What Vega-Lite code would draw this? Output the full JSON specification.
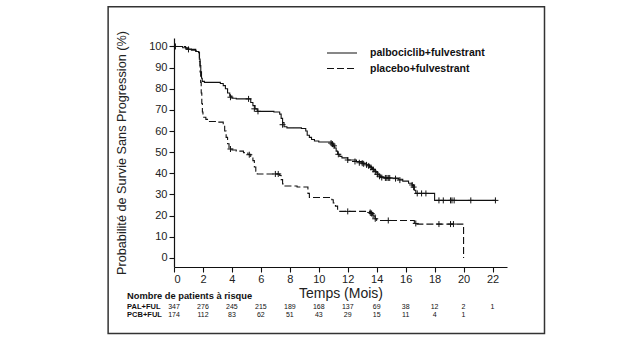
{
  "$schema": "https://vega.github.io/schema/vega-lite/v6.json",
  "width": 333,
  "height": 229,
  "autosize": {"type": "none"},
  "padding": {"left": 174, "top": 38, "right": 119, "bottom": 90},
  "background": "white",
  "config": {
    "font": "Liberation Sans",
    "view": {"stroke": null},
    "axis": {"grid": false, "domainColor": "#111", "tickColor": "#111", "domainWidth": 1.2, "tickWidth": 1.1, "tickSize": 5, "labelFont": "Liberation Sans", "labelFontSize": 11, "labelColor": "#222", "titleFont": "Liberation Sans", "titleColor": "#222", "titleFontWeight": "normal"},
    "axisX": {"tickCount": 12, "titleFontSize": 14, "titlePadding": 2, "labelPadding": 1},
    "axisY": {"tickCount": 11, "titleFontSize": 12.7, "titlePadding": 20, "labelPadding": 2}
  },
  "datasets": {
    "curves": [
      {"arm": "palbociclib+fulvestrant", "t": 0, "s": 100},
      {"arm": "palbociclib+fulvestrant", "t": 0.6, "s": 99.4},
      {"arm": "palbociclib+fulvestrant", "t": 0.9, "s": 98.8},
      {"arm": "palbociclib+fulvestrant", "t": 1.2, "s": 98.2},
      {"arm": "palbociclib+fulvestrant", "t": 1.5, "s": 97.6},
      {"arm": "palbociclib+fulvestrant", "t": 1.7, "s": 97},
      {"arm": "palbociclib+fulvestrant", "t": 1.75, "s": 94},
      {"arm": "palbociclib+fulvestrant", "t": 1.8, "s": 91},
      {"arm": "palbociclib+fulvestrant", "t": 1.85, "s": 88},
      {"arm": "palbociclib+fulvestrant", "t": 1.9, "s": 85},
      {"arm": "palbociclib+fulvestrant", "t": 1.95, "s": 83.5},
      {"arm": "palbociclib+fulvestrant", "t": 2.1, "s": 83},
      {"arm": "palbociclib+fulvestrant", "t": 3.2, "s": 82.5},
      {"arm": "palbociclib+fulvestrant", "t": 3.4, "s": 81.5},
      {"arm": "palbociclib+fulvestrant", "t": 3.55, "s": 80},
      {"arm": "palbociclib+fulvestrant", "t": 3.7, "s": 78},
      {"arm": "palbociclib+fulvestrant", "t": 3.85, "s": 76.5},
      {"arm": "palbociclib+fulvestrant", "t": 4.0, "s": 75.5},
      {"arm": "palbociclib+fulvestrant", "t": 4.3, "s": 75.2},
      {"arm": "palbociclib+fulvestrant", "t": 5.3, "s": 73.5},
      {"arm": "palbociclib+fulvestrant", "t": 5.45, "s": 72},
      {"arm": "palbociclib+fulvestrant", "t": 5.6, "s": 70.5},
      {"arm": "palbociclib+fulvestrant", "t": 5.75, "s": 69.3},
      {"arm": "palbociclib+fulvestrant", "t": 6.9, "s": 69},
      {"arm": "palbociclib+fulvestrant", "t": 7.3, "s": 68},
      {"arm": "palbociclib+fulvestrant", "t": 7.4, "s": 66},
      {"arm": "palbociclib+fulvestrant", "t": 7.5, "s": 64},
      {"arm": "palbociclib+fulvestrant", "t": 7.6, "s": 62},
      {"arm": "palbociclib+fulvestrant", "t": 7.8, "s": 61.5},
      {"arm": "palbociclib+fulvestrant", "t": 8.8, "s": 61.2},
      {"arm": "palbociclib+fulvestrant", "t": 9.1, "s": 60},
      {"arm": "palbociclib+fulvestrant", "t": 9.2, "s": 58},
      {"arm": "palbociclib+fulvestrant", "t": 9.35, "s": 57},
      {"arm": "palbociclib+fulvestrant", "t": 9.5, "s": 56},
      {"arm": "palbociclib+fulvestrant", "t": 9.7, "s": 55.3},
      {"arm": "palbociclib+fulvestrant", "t": 10.0, "s": 54.8},
      {"arm": "palbociclib+fulvestrant", "t": 10.9, "s": 54},
      {"arm": "palbociclib+fulvestrant", "t": 11.0, "s": 53},
      {"arm": "palbociclib+fulvestrant", "t": 11.1, "s": 52},
      {"arm": "palbociclib+fulvestrant", "t": 11.2, "s": 50.5},
      {"arm": "palbociclib+fulvestrant", "t": 11.3, "s": 49},
      {"arm": "palbociclib+fulvestrant", "t": 11.45, "s": 48},
      {"arm": "palbociclib+fulvestrant", "t": 11.6, "s": 47.3},
      {"arm": "palbociclib+fulvestrant", "t": 12.0, "s": 46.3},
      {"arm": "palbociclib+fulvestrant", "t": 12.6, "s": 45.6},
      {"arm": "palbociclib+fulvestrant", "t": 13.0, "s": 44.8},
      {"arm": "palbociclib+fulvestrant", "t": 13.3, "s": 44},
      {"arm": "palbociclib+fulvestrant", "t": 13.5, "s": 43.2},
      {"arm": "palbociclib+fulvestrant", "t": 13.65, "s": 42.3},
      {"arm": "palbociclib+fulvestrant", "t": 13.8, "s": 41.2},
      {"arm": "palbociclib+fulvestrant", "t": 13.95, "s": 40.2},
      {"arm": "palbociclib+fulvestrant", "t": 14.1, "s": 39.2},
      {"arm": "palbociclib+fulvestrant", "t": 14.25, "s": 38.4},
      {"arm": "palbociclib+fulvestrant", "t": 14.5, "s": 37.8},
      {"arm": "palbociclib+fulvestrant", "t": 15.5, "s": 37.2},
      {"arm": "palbociclib+fulvestrant", "t": 15.8, "s": 36.3},
      {"arm": "palbociclib+fulvestrant", "t": 16.2, "s": 35.3},
      {"arm": "palbociclib+fulvestrant", "t": 16.45, "s": 34.2},
      {"arm": "palbociclib+fulvestrant", "t": 16.6, "s": 32},
      {"arm": "palbociclib+fulvestrant", "t": 16.7, "s": 30.5},
      {"arm": "palbociclib+fulvestrant", "t": 18.0, "s": 27.2},
      {"arm": "palbociclib+fulvestrant", "t": 22.2, "s": 27.2},
      {"arm": "placebo+fulvestrant", "t": 0, "s": 100},
      {"arm": "placebo+fulvestrant", "t": 0.8, "s": 99.2},
      {"arm": "placebo+fulvestrant", "t": 1.2, "s": 98.6},
      {"arm": "placebo+fulvestrant", "t": 1.5, "s": 98},
      {"arm": "placebo+fulvestrant", "t": 1.72, "s": 97.2},
      {"arm": "placebo+fulvestrant", "t": 1.76, "s": 93},
      {"arm": "placebo+fulvestrant", "t": 1.8, "s": 88},
      {"arm": "placebo+fulvestrant", "t": 1.84, "s": 83},
      {"arm": "placebo+fulvestrant", "t": 1.88, "s": 78},
      {"arm": "placebo+fulvestrant", "t": 1.92, "s": 73},
      {"arm": "placebo+fulvestrant", "t": 1.96, "s": 69},
      {"arm": "placebo+fulvestrant", "t": 2.0, "s": 66.5},
      {"arm": "placebo+fulvestrant", "t": 2.2, "s": 65.5},
      {"arm": "placebo+fulvestrant", "t": 2.4, "s": 64.5},
      {"arm": "placebo+fulvestrant", "t": 3.0, "s": 64.2},
      {"arm": "placebo+fulvestrant", "t": 3.4, "s": 63},
      {"arm": "placebo+fulvestrant", "t": 3.5, "s": 60},
      {"arm": "placebo+fulvestrant", "t": 3.6, "s": 57},
      {"arm": "placebo+fulvestrant", "t": 3.7, "s": 54},
      {"arm": "placebo+fulvestrant", "t": 3.8, "s": 52},
      {"arm": "placebo+fulvestrant", "t": 4.0, "s": 51},
      {"arm": "placebo+fulvestrant", "t": 4.3, "s": 50.5},
      {"arm": "placebo+fulvestrant", "t": 4.8, "s": 49.8},
      {"arm": "placebo+fulvestrant", "t": 5.1, "s": 49},
      {"arm": "placebo+fulvestrant", "t": 5.3, "s": 48},
      {"arm": "placebo+fulvestrant", "t": 5.45, "s": 46},
      {"arm": "placebo+fulvestrant", "t": 5.55, "s": 43},
      {"arm": "placebo+fulvestrant", "t": 5.65, "s": 41},
      {"arm": "placebo+fulvestrant", "t": 5.75, "s": 39.7},
      {"arm": "placebo+fulvestrant", "t": 7.3, "s": 39},
      {"arm": "placebo+fulvestrant", "t": 7.4, "s": 37},
      {"arm": "placebo+fulvestrant", "t": 7.5, "s": 35},
      {"arm": "placebo+fulvestrant", "t": 7.6, "s": 34},
      {"arm": "placebo+fulvestrant", "t": 8.5, "s": 33.5},
      {"arm": "placebo+fulvestrant", "t": 9.25, "s": 30.5},
      {"arm": "placebo+fulvestrant", "t": 9.35, "s": 28.6},
      {"arm": "placebo+fulvestrant", "t": 10.9, "s": 27.5},
      {"arm": "placebo+fulvestrant", "t": 11.0, "s": 26},
      {"arm": "placebo+fulvestrant", "t": 11.15, "s": 24.5},
      {"arm": "placebo+fulvestrant", "t": 11.3, "s": 23},
      {"arm": "placebo+fulvestrant", "t": 11.45, "s": 22},
      {"arm": "placebo+fulvestrant", "t": 13.6, "s": 21.3},
      {"arm": "placebo+fulvestrant", "t": 13.7, "s": 20.5},
      {"arm": "placebo+fulvestrant", "t": 13.8, "s": 19.5},
      {"arm": "placebo+fulvestrant", "t": 13.9, "s": 18.5},
      {"arm": "placebo+fulvestrant", "t": 14.0, "s": 17.7},
      {"arm": "placebo+fulvestrant", "t": 16.6, "s": 16},
      {"arm": "placebo+fulvestrant", "t": 20.0, "s": 0}
    ],
    "censors": [
      {"arm": "PAL", "t": 0.1, "s": 100},
      {"arm": "PAL", "t": 1.0, "s": 98.6},
      {"arm": "PAL", "t": 3.9, "s": 76},
      {"arm": "PAL", "t": 5.15, "s": 75.2},
      {"arm": "PAL", "t": 5.55, "s": 70.5},
      {"arm": "PAL", "t": 5.8, "s": 69.3},
      {"arm": "PAL", "t": 7.5, "s": 63},
      {"arm": "PAL", "t": 10.85, "s": 54.3},
      {"arm": "PAL", "t": 10.95, "s": 53.8},
      {"arm": "PAL", "t": 11.05, "s": 53},
      {"arm": "PAL", "t": 11.35, "s": 49},
      {"arm": "PAL", "t": 12.0, "s": 46.3},
      {"arm": "PAL", "t": 12.5, "s": 45.6},
      {"arm": "PAL", "t": 12.8, "s": 45},
      {"arm": "PAL", "t": 13.0, "s": 44.8},
      {"arm": "PAL", "t": 13.1, "s": 44.5},
      {"arm": "PAL", "t": 13.3, "s": 44},
      {"arm": "PAL", "t": 13.45, "s": 43.5},
      {"arm": "PAL", "t": 13.6, "s": 42.8},
      {"arm": "PAL", "t": 13.75, "s": 41.8},
      {"arm": "PAL", "t": 13.9, "s": 40.8},
      {"arm": "PAL", "t": 14.05, "s": 39.5},
      {"arm": "PAL", "t": 14.2, "s": 38.6},
      {"arm": "PAL", "t": 14.35, "s": 38},
      {"arm": "PAL", "t": 14.6, "s": 37.8},
      {"arm": "PAL", "t": 14.7, "s": 37.8},
      {"arm": "PAL", "t": 14.8, "s": 37.8},
      {"arm": "PAL", "t": 14.9, "s": 37.8},
      {"arm": "PAL", "t": 15.3, "s": 37.5},
      {"arm": "PAL", "t": 15.6, "s": 36.8},
      {"arm": "PAL", "t": 16.45, "s": 34.5},
      {"arm": "PAL", "t": 16.55, "s": 33.5},
      {"arm": "PAL", "t": 16.8, "s": 30.5},
      {"arm": "PAL", "t": 17.1, "s": 30.5},
      {"arm": "PAL", "t": 17.4, "s": 30.5},
      {"arm": "PAL", "t": 18.3, "s": 27.2},
      {"arm": "PAL", "t": 18.6, "s": 27.2},
      {"arm": "PAL", "t": 19.1, "s": 27.2},
      {"arm": "PAL", "t": 19.2, "s": 27.2},
      {"arm": "PAL", "t": 19.35, "s": 27.2},
      {"arm": "PAL", "t": 20.5, "s": 27.2},
      {"arm": "PAL", "t": 22.2, "s": 27.2},
      {"arm": "PCB", "t": 3.9, "s": 51.5},
      {"arm": "PCB", "t": 5.2, "s": 48.8},
      {"arm": "PCB", "t": 7.0, "s": 39.7},
      {"arm": "PCB", "t": 7.2, "s": 39.7},
      {"arm": "PCB", "t": 12.0, "s": 22},
      {"arm": "PCB", "t": 13.55, "s": 21.5},
      {"arm": "PCB", "t": 13.65, "s": 21},
      {"arm": "PCB", "t": 13.75, "s": 20.2},
      {"arm": "PCB", "t": 13.9, "s": 18.5},
      {"arm": "PCB", "t": 14.8, "s": 17.7},
      {"arm": "PCB", "t": 16.7, "s": 16.3},
      {"arm": "PCB", "t": 18.3, "s": 16},
      {"arm": "PCB", "t": 19.1, "s": 16},
      {"arm": "PCB", "t": 19.3, "s": 16}
    ],
    "risk": [
      {"arm": "PAL", "t": 0, "n": 347}, {"arm": "PAL", "t": 2, "n": 276}, {"arm": "PAL", "t": 4, "n": 245},
      {"arm": "PAL", "t": 6, "n": 215}, {"arm": "PAL", "t": 8, "n": 189}, {"arm": "PAL", "t": 10, "n": 168},
      {"arm": "PAL", "t": 12, "n": 137}, {"arm": "PAL", "t": 14, "n": 69}, {"arm": "PAL", "t": 16, "n": 38},
      {"arm": "PAL", "t": 18, "n": 12}, {"arm": "PAL", "t": 20, "n": 2}, {"arm": "PAL", "t": 22, "n": 1},
      {"arm": "PCB", "t": 0, "n": 174}, {"arm": "PCB", "t": 2, "n": 112}, {"arm": "PCB", "t": 4, "n": 83},
      {"arm": "PCB", "t": 6, "n": 62}, {"arm": "PCB", "t": 8, "n": 51}, {"arm": "PCB", "t": 10, "n": 43},
      {"arm": "PCB", "t": 12, "n": 29}, {"arm": "PCB", "t": 14, "n": 15}, {"arm": "PCB", "t": 16, "n": 11},
      {"arm": "PCB", "t": 18, "n": 4}, {"arm": "PCB", "t": 20, "n": 1}
    ]
  },
  "layer": [
    {
      "data": {"name": "curves"},
      "mark": {"type": "line", "interpolate": "step-after", "color": "#111", "strokeWidth": 1.1},
      "encoding": {
        "x": {"field": "t", "type": "quantitative", "scale": {"domain": [0, 23], "nice": false, "zero": false},
              "axis": {"values": [0, 2, 4, 6, 8, 10, 12, 14, 16, 18, 20, 22], "title": "Temps (Mois)"}},
        "y": {"field": "s", "type": "quantitative", "scale": {"domain": [-4.3, 104], "nice": false, "zero": false},
              "axis": {"values": [0, 10, 20, 30, 40, 50, 60, 70, 80, 90, 100], "title": "Probabilité de Survie Sans Progression (%)"}},
        "strokeDash": {"field": "arm", "type": "nominal",
          "scale": {"domain": ["palbociclib+fulvestrant", "placebo+fulvestrant"], "range": [[1, 0], [7, 3]]},
          "legend": {"orient": "none", "legendX": 162, "legendY": 9, "title": null, "symbolType": "M-3,0L3,0", "symbolSize": 100, "symbolStrokeWidth": 1.1, "symbolStrokeColor": "#111", "labelFontSize": 10.5, "labelFontWeight": "bold", "labelColor": "#111", "labelOffset": 22, "rowPadding": 3.5}},
        "detail": {"field": "arm"}
      }
    },
    {
      "data": {"name": "censors"},
      "mark": {"type": "point", "shape": "M-1,0L1,0M0,-1L0,1", "filled": false, "color": "#111", "strokeWidth": 1, "size": 36, "opacity": 1},
      "encoding": {
        "x": {"field": "t", "type": "quantitative"},
        "y": {"field": "s", "type": "quantitative"}
      }
    },
    {
      "data": {"name": "risk"},
      "transform": [{"filter": "datum.arm === 'PAL'"}],
      "mark": {"type": "text", "fontSize": 7, "color": "#111", "align": "center", "baseline": "middle"},
      "encoding": {
        "x": {"field": "t", "type": "quantitative"},
        "y": {"datum": -23.4, "type": "quantitative"},
        "text": {"field": "n"}
      }
    },
    {
      "data": {"name": "risk"},
      "transform": [{"filter": "datum.arm === 'PCB'"}],
      "mark": {"type": "text", "fontSize": 7, "color": "#111", "align": "center", "baseline": "middle"},
      "encoding": {
        "x": {"field": "t", "type": "quantitative"},
        "y": {"datum": -27.0, "type": "quantitative"},
        "text": {"field": "n"}
      }
    },
    {
      "data": {"values": [{"label": "Nombre de patients à risque", "row": -18.1}, {"label": "PAL+FUL", "row": -23.4}, {"label": "PCB+FUL", "row": -27.0}]},
      "mark": {"type": "text", "fontWeight": "bold", "color": "#111", "align": "left", "baseline": "middle"},
      "encoding": {
        "x": {"datum": -3.24, "type": "quantitative"},
        "y": {"field": "row", "type": "quantitative"},
        "text": {"field": "label"},
        "size": {"condition": {"test": "datum.row > -20", "value": 9.3}, "value": 7.5}
      }
    },
    {
      "data": {"values": [{}]},
      "mark": {"type": "rect", "filled": false, "stroke": "#333", "strokeWidth": 1.5},
      "encoding": {
        "x": {"datum": -4.55, "type": "quantitative"},
        "x2": {"datum": 25.59},
        "y": {"datum": -35.7, "type": "quantitative"},
        "y2": {"datum": 118.8}
      }
    }
  ]
}
